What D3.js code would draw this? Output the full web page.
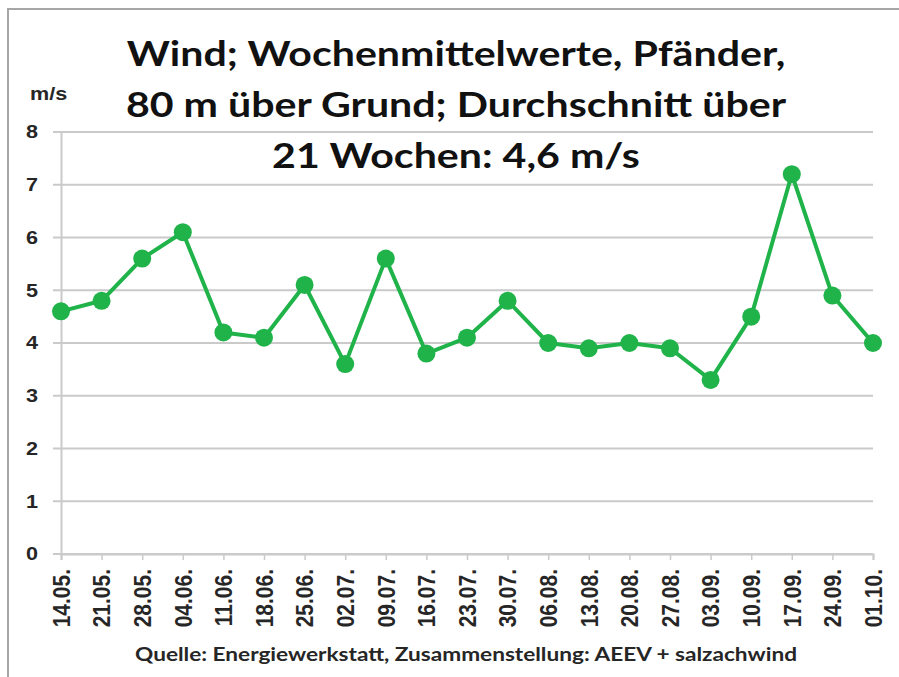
<!DOCTYPE html>
<html>
<head>
<meta charset="utf-8">
<script src="https://cdn.jsdelivr.net/npm/d3@7"></script>
<style>
  body { margin: 0; background: #fff; }
  svg { display: block; }
</style>
</head>
<body>
<div id="chart"></div>
<script>
const width = 899;
const height = 677;

// data
const weeks = ["14.05.", "21.05.", "28.05.", "04.06.", "11.06.", "18.06.", "25.06.",
    "02.07.", "09.07.", "16.07.", "23.07.", "30.07.", "06.08.", "13.08.", "20.08.",
    "27.08.", "03.09.", "10.09.", "17.09.", "24.09.", "01.10."];
const windSpeed = [4.6, 4.8, 5.6, 6.1, 4.2, 4.1, 5.1, 3.6, 5.6, 3.8, 4.1, 4.8,
    4.0, 3.9, 4.0, 3.9, 3.3, 4.5, 7.2, 4.9, 4.0];
const yTicks = [0, 1, 2, 3, 4, 5, 6, 7, 8];
const titleLines = ["Wind; Wochenmittelwerte, Pfänder,",
    "80 m über Grund; Durchschnitt über",
    "21 Wochen: 4,6 m/s"];

const margin = { top: 132, right: 26, bottom: 123, left: 61 };
const stretch = 1.2; // the original picture is a bit wider than tall

const svg = d3.select("#chart")
    .append("svg")
    .attr("width", width)
    .attr("height", height);

// outer frame (only top and left edges visible)
svg.append("rect")
    .attr("x", 8)
    .attr("y", 9)
    .attr("width", width + 20)
    .attr("height", height + 20)
    .attr("fill", "#fff")
    .attr("stroke", "#a6a6a6")
    .attr("stroke-width", 2);

const x = d3.scalePoint()
    .domain(weeks)
    .range([margin.left, width - margin.right]);

const y = d3.scaleLinear()
    .domain([0, 8])
    .range([height - margin.bottom, margin.top]);

// horizontal grid lines
svg.append("g")
    .selectAll("line")
    .data(yTicks)
    .join("line")
    .attr("x1", margin.left - 8)
    .attr("x2", width - margin.right)
    .attr("y1", d => y(d))
    .attr("y2", d => y(d))
    .attr("stroke", "#cacaca")
    .attr("stroke-width", 2);

// y axis
const yAxis = svg.append("g")
    .attr("transform", `translate(${margin.left},0)`)
    .call(d3.axisLeft(y).tickValues(yTicks).tickSize(0));
yAxis.select(".domain").attr("stroke", "#cacaca").attr("stroke-width", 2);
yAxis.selectAll("text")
    .attr("font-family", "Liberation Sans, Arial, sans-serif")
    .attr("font-weight", "bold")
    .attr("font-size", 18)
    .attr("fill", "#262626")
    .attr("x", 0)
    .attr("transform", `translate(-23,0) scale(${stretch},1)`);

// x axis
const xAxis = svg.append("g")
    .attr("transform", `translate(0,${y(0)})`)
    .call(d3.axisBottom(x).tickSize(6));
xAxis.select(".domain").attr("stroke", "#cacaca").attr("stroke-width", 2);
xAxis.selectAll(".tick line").attr("stroke", "#cacaca").attr("stroke-width", 1.5);
xAxis.selectAll("text")
    .attr("font-family", "Liberation Sans, Arial, sans-serif")
    .attr("font-weight", "bold")
    .attr("font-size", 21)
    .attr("fill", "#262626")
    .attr("text-anchor", "end")
    .attr("dy", "0.35em")
    .attr("transform", `scale(1.12,1) rotate(-90)`)
    .attr("x", -15)
    .attr("y", 0);

// unit label
svg.append("text")
    .attr("transform", `translate(30,100) scale(${stretch},1)`)
    .attr("font-family", "Liberation Sans, Arial, sans-serif")
    .attr("font-weight", "bold")
    .attr("font-size", 18)
    .attr("fill", "#262626")
    .text("m/s");

// line and markers
const line = d3.line()
    .x((d, i) => x(weeks[i]))
    .y(d => y(d));

svg.append("path")
    .datum(windSpeed)
    .attr("d", line)
    .attr("fill", "none")
    .attr("stroke", "#1fb34a")
    .attr("stroke-width", 4)
    .attr("stroke-linejoin", "round");

svg.append("g")
    .selectAll("circle")
    .data(windSpeed)
    .join("circle")
    .attr("cx", (d, i) => x(weeks[i]))
    .attr("cy", d => y(d))
    .attr("r", 9)
    .attr("fill", "#1fb34a");

// title
svg.append("g")
    .selectAll("text")
    .data(titleLines)
    .join("text")
    .attr("transform", (d, i) => `translate(456,${66 + i * 51}) scale(1.21,1)`)
    .attr("text-anchor", "middle")
    .attr("font-family", "Lato, sans-serif")
    .attr("font-weight", "bold")
    .attr("font-size", 34)
    .attr("fill", "#111")
    .text(d => d);

// source line
svg.append("text")
    .attr("transform", `translate(466,661) scale(1.19,1)`)
    .attr("text-anchor", "middle")
    .attr("font-family", "Lato, sans-serif")
    .attr("font-weight", "bold")
    .attr("font-size", 19)
    .attr("fill", "#262626")
    .text("Quelle: Energiewerkstatt, Zusammenstellung: AEEV + salzachwind");
</script>
</body>
</html>
